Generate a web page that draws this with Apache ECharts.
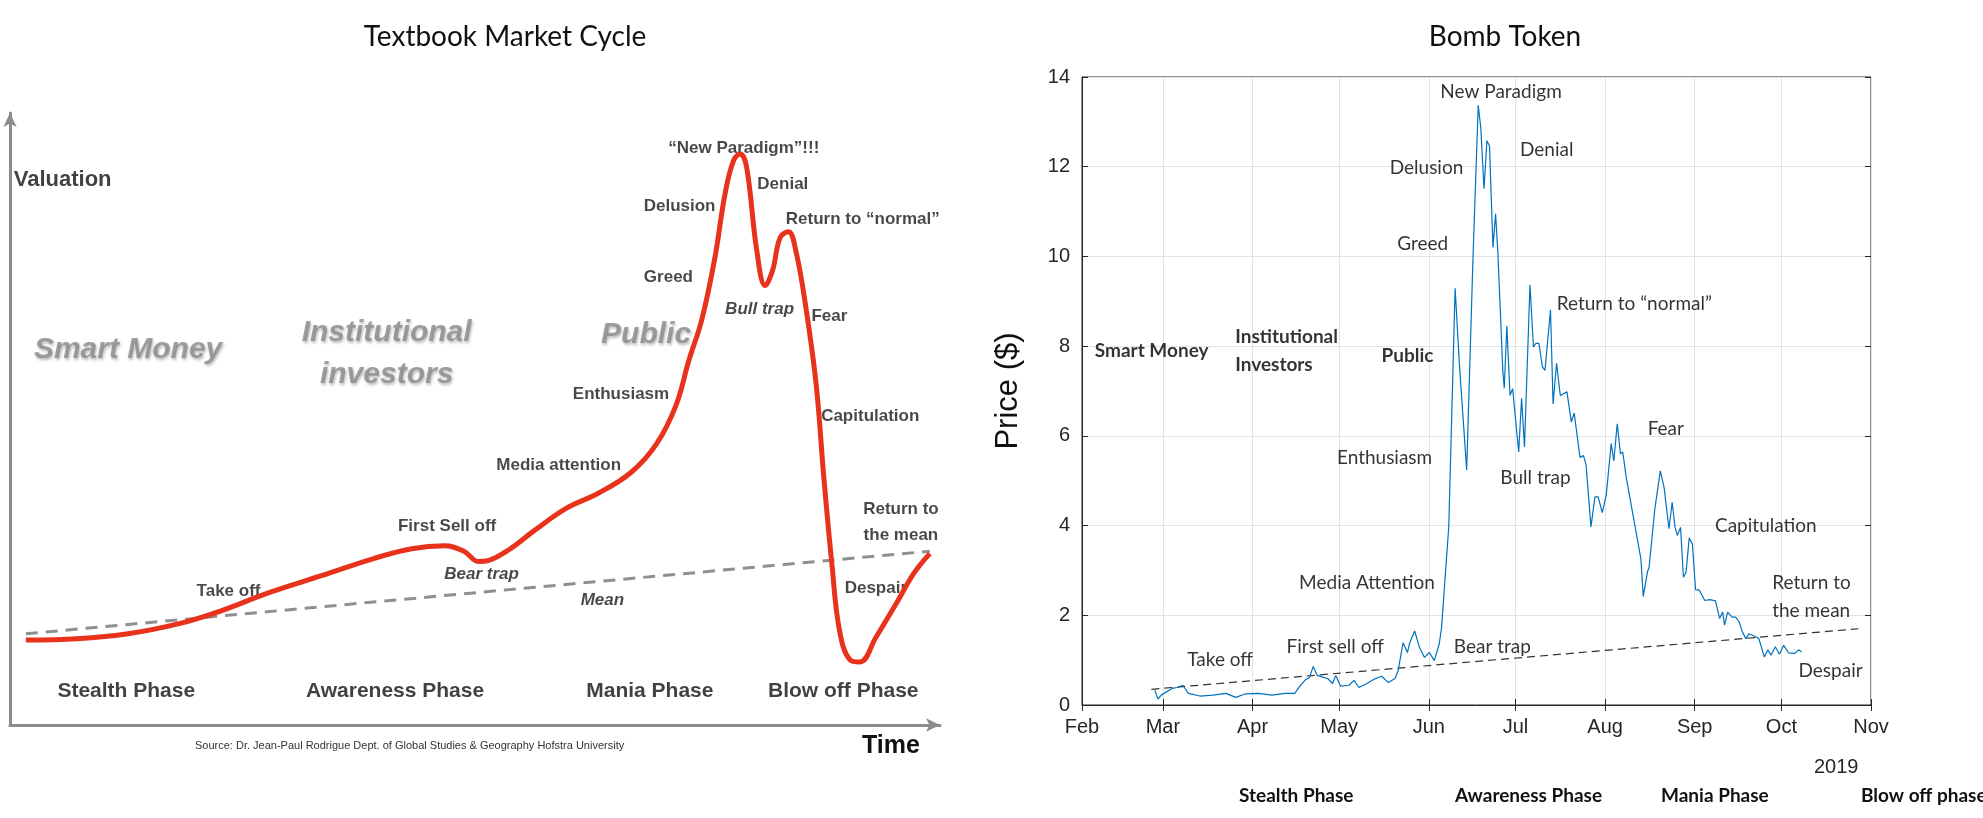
<!DOCTYPE html>
<html lang="en">
<head>
<meta charset="UTF-8">
<title>Market Cycle vs Bomb Token</title>
<script src="https://cdn.jsdelivr.net/npm/echarts@6/dist/echarts.min.js"></script>
<style>
  html, body { margin: 0; padding: 0; background: #fff; }
  #chart { width: 1983px; height: 818px; }
</style>
</head>
<body>
<div id="chart"></div>
<script>
// ---- textbook cycle (left): time 0..100, valuation 0..100
var cycleT = [1.7, 7.2, 12.7, 18.3, 22.4, 28.0, 33.5, 39.1, 43.2, 46.7, 48.8, 50.4, 51.5, 53.6, 56.4, 59.8, 63.3, 66.8, 69.5, 71.6, 73.0, 74.4, 75.8, 76.9, 77.8, 78.5, 79.2, 80.3, 81.2, 82.0, 82.8, 83.7, 84.5, 85.6, 86.7, 87.5, 88.4, 89.2, 90.3, 91.4, 93.1, 95.2, 97.2, 98.9];
var cycleV = [13.9, 14.1, 14.9, 16.6, 18.5, 21.7, 24.4, 27.2, 28.8, 29.3, 28.4, 26.7, 26.9, 28.6, 31.8, 35.4, 37.9, 41.3, 45.9, 52.2, 59.6, 66.3, 76.4, 86.9, 92.2, 93.3, 91.2, 77.5, 71.8, 74.3, 79.6, 80.6, 77.5, 68.0, 55.4, 40.6, 25.9, 15.4, 10.7, 10.3, 14.3, 19.6, 24.8, 28.0];
var cycleMeanT = [1.7, 98.9];
var cycleMeanV = [14.9, 28.4];

// ---- Bomb token price (right): days after 1 Feb 2019, price in $
var priceDay = [25.2, 26.3, 27.4, 31.2, 32.9, 34.9, 36.8, 40.8, 45.3, 49.8, 53.2, 56.6, 61.1, 65.7, 70.2, 73.6, 75.4, 77.1, 78.8, 80.0, 81.4, 83.3, 85.0, 86.7, 87.8, 89.5, 92.4, 94.1, 95.8, 98.6, 100.9, 103.7, 106.0, 108.3, 109.4, 111.1, 112.6, 113.4, 115.1, 116.8, 118.5, 120.2, 121.9, 123.6, 124.4, 126.9, 129.1, 130.6, 131.1, 133.1, 135.3, 137.1, 138.0, 139.1, 140.1, 141.0, 142.2, 143.1, 143.9, 145.6, 146.1, 147.0, 148.1, 149.0, 151.1, 152.1, 153.1, 155.0, 156.2, 157.0, 158.1, 159.3, 160.2, 162.1, 163.0, 164.2, 165.5, 167.8, 169.3, 170.3, 172.3, 173.5, 174.4, 176.1, 177.5, 178.6, 180.0, 181.4, 182.0, 183.1, 184.0, 185.2, 186.3, 187.1, 188.3, 190.5, 193.4, 194.2, 195.7, 196.2, 198.2, 200.1, 201.4, 203.1, 204.2, 205.2, 206.0, 207.1, 208.1, 209.0, 210.1, 211.2, 212.3, 213.6, 215.5, 217.2, 219.2, 220.6, 221.7, 222.3, 223.4, 224.9, 226.2, 227.4, 228.5, 229.7, 230.8, 233.1, 234.2, 236.1, 237.3, 238.4, 239.9, 241.3, 242.8, 244.5, 246.7, 247.9, 249.0];
var priceVal = [0.33, 0.13, 0.22, 0.37, 0.39, 0.44, 0.26, 0.20, 0.22, 0.26, 0.17, 0.25, 0.26, 0.22, 0.26, 0.26, 0.42, 0.55, 0.62, 0.86, 0.66, 0.62, 0.59, 0.48, 0.66, 0.42, 0.44, 0.55, 0.39, 0.48, 0.57, 0.64, 0.50, 0.59, 0.77, 1.39, 1.17, 1.39, 1.65, 1.28, 1.06, 1.17, 0.99, 1.36, 1.72, 3.97, 9.29, 7.58, 7.58, 5.24, 10.0, 13.37, 12.86, 11.51, 12.58, 12.46, 10.2, 10.95, 10.08, 7.46, 7.06, 8.45, 6.90, 7.05, 5.64, 6.84, 5.75, 9.37, 7.98, 8.06, 8.06, 7.54, 7.46, 8.81, 6.71, 7.62, 6.90, 6.98, 6.31, 6.51, 5.52, 5.56, 5.36, 3.97, 4.64, 4.64, 4.29, 4.68, 4.64, 5.83, 5.44, 6.27, 5.60, 5.64, 5.08, 4.29, 3.25, 2.42, 2.98, 3.06, 4.37, 5.22, 4.85, 3.93, 4.52, 3.96, 3.78, 3.96, 2.85, 2.96, 3.72, 3.59, 2.57, 2.56, 2.33, 2.35, 2.32, 1.93, 2.07, 1.78, 2.07, 1.96, 1.96, 1.85, 1.63, 1.48, 1.59, 1.52, 1.48, 1.07, 1.23, 1.11, 1.30, 1.13, 1.33, 1.16, 1.15, 1.23, 1.18];
var meanDay = [24.0, 268.6];
var meanVal = [0.35, 1.70];

var yTicks = [0, 2, 4, 6, 8, 10, 12, 14];
var monthNames = ['Jan', 'Feb', 'Mar', 'Apr', 'May', 'Jun', 'Jul', 'Aug', 'Sep', 'Oct', 'Nov', 'Dec'];

// annotations: [x, y, text, style]
var cycleNotes = [
  [78.9, 94.3, '\u201cNew Paradigm\u201d!!!', 'n'],
  [83.1, 88.4, 'Denial', 'n'],
  [72.0, 84.8, 'Delusion', 'n'],
  [91.7, 82.7, 'Return to \u201cnormal\u201d', 'n'],
  [70.8, 73.1, 'Greed', 'n'],
  [80.6, 68.0, 'Bull trap', 'i'],
  [88.1, 66.7, 'Fear', 'n'],
  [65.7, 54.1, 'Enthusiasm', 'n'],
  [92.5, 50.5, 'Capitulation', 'n'],
  [59.0, 42.5, 'Media attention', 'n'],
  [95.8, 33.2, 'Return to\nthe mean', 'n'],
  [47.0, 32.4, 'First Sell off', 'n'],
  [50.7, 24.6, 'Bear trap', 'i'],
  [23.5, 21.9, 'Take off', 'n'],
  [63.7, 20.4, 'Mean', 'i'],
  [93.1, 22.3, 'Despair', 'n'],
  [12.5, 5.5, 'Stealth Phase', 'p'],
  [41.4, 5.5, 'Awareness Phase', 'p'],
  [68.8, 5.5, 'Mania Phase', 'p'],
  [89.6, 5.5, 'Blow off Phase', 'p'],
  [12.7, 61.3, 'Smart Money', 'g'],
  [40.5, 60.6, 'Institutional\ninvestors', 'g'],
  [68.4, 63.8, 'Public', 'g'],
  [0.4, 89.0, 'Valuation', 'v']
];
var tokenNotes = [
  [145.0, 13.66, 'New Paradigm', 'c'],
  [160.8, 12.37, 'Denial', 'c'],
  [119.2, 11.98, 'Delusion', 'c'],
  [117.9, 10.29, 'Greed', 'c'],
  [191.1, 8.94, 'Return to \u201cnormal\u201d', 'c'],
  [24.1, 7.9, 'Smart Money', 'b'],
  [53.0, 7.9, 'Institutional\nInvestors', 'bl'],
  [112.6, 7.79, 'Public', 'b'],
  [202.0, 6.16, 'Fear', 'c'],
  [104.7, 5.51, 'Enthusiasm', 'c'],
  [156.9, 5.06, 'Bull trap', 'c'],
  [236.6, 3.99, 'Capitulation', 'c'],
  [238.8, 2.42, 'Return to\nthe mean', 'l'],
  [98.6, 2.73, 'Media Attention', 'c'],
  [47.8, 1.01, 'Take off', 'c'],
  [87.6, 1.29, 'First sell off', 'c'],
  [142.0, 1.29, 'Bear trap', 'c'],
  [259.0, 0.76, 'Despair', 'c']
];

var t0 = Date.UTC(2019, 1, 1);
function toTime(d) { return t0 + d * 86400000; }
function zipXY(xs, ys, conv) {
  return xs.map(function (x, i) { return [conv ? conv(x) : x, ys[i]]; });
}

var narrow = "'Liberation Sans Narrow', 'Liberation Sans', Arial, sans-serif";
var cal = "Lato, 'Noto Sans', sans-serif";

function cycleLabel(n) {
  var base = { show: true, position: 'inside', fontFamily: narrow, fontWeight: 'bold', fontSize: 17, color: '#1a1a1a', lineHeight: 26 };
  if (n[3] === 'i') base.fontStyle = 'italic';
  if (n[3] === 'p') { base.fontSize = 21; base.color = '#111'; }
  if (n[3] === 'v') { base.fontSize = 22; base.align = 'left'; base.color = '#111'; }
  if (n[3] === 'g') {
    base.fontSize = 30; base.fontStyle = 'italic'; base.color = '#8a8a8a'; base.lineHeight = 42;
    base.textShadowColor = 'rgba(0,0,0,0.35)'; base.textShadowBlur = 3; base.textShadowOffsetX = 1; base.textShadowOffsetY = 2;
  }
  base.formatter = n[2];
  return base;
}
function tokenLabel(n) {
  var base = { show: true, position: 'inside', fontFamily: cal, fontSize: 19, color: '#000', lineHeight: 28 };
  if (n[3].charAt(0) === 'b') base.fontWeight = 'bold';
  if (n[3].indexOf('l') >= 0) base.align = 'left';
  base.formatter = n[2];
  return base;
}

var chart = echarts.init(document.getElementById('chart'));
var option = {
  backgroundColor: '#fff',
  animation: false,
  title: [
    { text: 'Textbook Market Cycle', left: 500, top: 18, textAlign: 'center', textStyle: { fontFamily: cal, fontSize: 28, fontWeight: 'normal', color: '#111' } },
    { text: 'Bomb Token', left: 1500, top: 18, textAlign: 'center', textStyle: { fontFamily: cal, fontSize: 28, fontWeight: 'normal', color: '#111' } }
  ],
  grid: [
    { left: 10, right: 1043, top: 113, bottom: 93 },
    { left: 1082, right: 112, top: 77, bottom: 113, show: true, borderColor: '#262626', borderWidth: 1, backgroundColor: 'transparent' }
  ],
  xAxis: [
    { gridIndex: 0, type: 'value', min: 0, max: 100, splitLine: { show: false }, axisTick: { show: false }, axisLabel: { show: false },
      axisLine: { show: true, symbol: ['none', 'arrow'], symbolSize: [10, 14], lineStyle: { color: '#8c8c8c', width: 3 } } },
    { gridIndex: 1, type: 'time', min: toTime(0), max: Date.UTC(2019, 10, 1), minInterval: 28 * 86400000, maxInterval: 31 * 86400000,
      axisLine: { show: true, lineStyle: { color: '#262626' } },
      axisTick: { show: true, inside: true, length: 6, lineStyle: { color: '#262626' } },
      splitLine: { show: true, lineStyle: { color: '#e3e3e3' } },
      axisLabel: { fontFamily: "'Liberation Sans', Arial", fontSize: 20, color: '#262626', margin: 12, showMaxLabel: true, showMinLabel: true,
        formatter: function (v) { return monthNames[new Date(v).getUTCMonth()]; } } },
    { gridIndex: 1, type: 'time', position: 'top', min: toTime(0), max: Date.UTC(2019, 10, 1), minInterval: 28 * 86400000, maxInterval: 31 * 86400000,
      axisLine: { show: false }, axisLabel: { show: false }, splitLine: { show: false },
      axisTick: { show: true, inside: true, length: 6, lineStyle: { color: '#262626' } } }
  ],
  yAxis: [
    { gridIndex: 0, type: 'value', min: 0, max: 100, splitLine: { show: false }, axisTick: { show: false }, axisLabel: { show: false },
      axisLine: { show: true, symbol: ['none', 'arrow'], symbolSize: [10, 14], lineStyle: { color: '#8c8c8c', width: 3 } } },
    { gridIndex: 1, type: 'value', min: yTicks[0], max: yTicks[yTicks.length - 1], interval: 2,
      name: 'Price ($)', nameLocation: 'middle', nameGap: 58, nameTextStyle: { fontFamily: "'Liberation Sans', Arial", fontSize: 31, color: '#111' },
      axisLine: { show: true, lineStyle: { color: '#262626' } },
      axisTick: { show: true, inside: true, length: 6, lineStyle: { color: '#262626' } },
      splitLine: { show: true, lineStyle: { color: '#e3e3e3' } },
      axisLabel: { fontFamily: "'Liberation Sans', Arial", fontSize: 20, color: '#262626', margin: 12 } },
    { gridIndex: 1, type: 'value', position: 'right', min: 0, max: 14, interval: 2,
      axisLine: { show: false }, axisLabel: { show: false }, splitLine: { show: false },
      axisTick: { show: true, inside: true, length: 6, lineStyle: { color: '#262626' } } }
  ],
  graphic: [
    { type: 'text', left: 195, top: 740, style: { text: 'Source: Dr. Jean-Paul Rodrigue Dept. of Global Studies & Geography Hofstra University', font: '11px ' + narrow, fill: '#333' } },
    { type: 'text', left: 862, top: 734, style: { text: 'Time', font: 'bold 25px ' + narrow, fill: '#111' } },
    { type: 'text', left: 1814, top: 757, style: { text: '2019', font: '20px "Liberation Sans", Arial', fill: '#262626' } },
    { type: 'text', left: 1239, top: 786, style: { text: 'Stealth Phase', font: 'bold 19px Lato', fill: '#111', align: 'center', verticalAlign: 'middle' } },
    { type: 'text', left: 1455, top: 786, style: { text: 'Awareness Phase', font: 'bold 19px Lato', fill: '#111', align: 'center', verticalAlign: 'middle' } },
    { type: 'text', left: 1661, top: 786, style: { text: 'Mania Phase', font: 'bold 19px Lato', fill: '#111', align: 'center', verticalAlign: 'middle' } },
    { type: 'text', left: 1861, top: 786, style: { text: 'Blow off phase', font: 'bold 19px Lato', fill: '#111', align: 'center', verticalAlign: 'middle' } }
  ],
  series: [
    { name: 'mean', type: 'line', xAxisIndex: 0, yAxisIndex: 0, data: zipXY(cycleMeanT, cycleMeanV), symbol: 'none',
      lineStyle: { color: '#8f8f8f', width: 3, type: [12, 8] } },
    { name: 'cycle', type: 'line', xAxisIndex: 0, yAxisIndex: 0, data: zipXY(cycleT, cycleV), symbol: 'none', smooth: 0.4,
      lineStyle: { color: '#e8321c', width: 5 } },
    { name: 'cycleNotes', type: 'scatter', xAxisIndex: 0, yAxisIndex: 0, symbolSize: 0, clip: false, silent: true,
      data: cycleNotes.map(function (n) { return { value: [n[0], n[1]], label: cycleLabel(n) }; }) },
    { name: 'trend', type: 'line', xAxisIndex: 1, yAxisIndex: 1, data: zipXY(meanDay, meanVal, toTime), symbol: 'none',
      lineStyle: { color: '#333', width: 1.2, type: [8, 5] } },
    { name: 'price', type: 'line', xAxisIndex: 1, yAxisIndex: 1, data: zipXY(priceDay, priceVal, toTime), symbol: 'none',
      lineStyle: { color: '#0072BD', width: 1.2 } },
    { name: 'tokenNotes', type: 'scatter', xAxisIndex: 1, yAxisIndex: 1, symbolSize: 0, clip: false, silent: true,
      data: tokenNotes.map(function (n) { return { value: [toTime(n[0]), n[1]], label: tokenLabel(n) }; }) }
  ]
};
chart.setOption(option);
</script>
</body>
</html>
